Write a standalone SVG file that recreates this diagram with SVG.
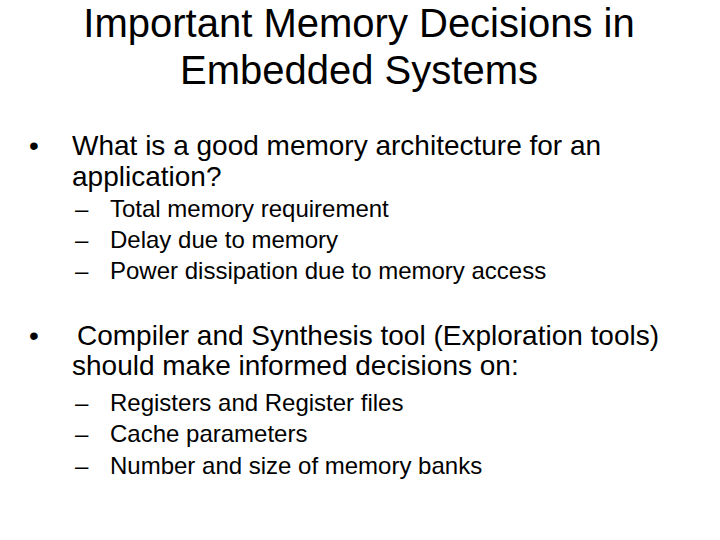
<svg xmlns="http://www.w3.org/2000/svg" width="720" height="540" viewBox="0 0 720 540">
<style>
text{font-family:"Liberation Sans",Arial,sans-serif;fill:#000}
.t{font-size:40px;text-anchor:middle}
.b{font-size:28px}
.s{font-size:24px}
</style>
<rect width="720" height="540" fill="#fff"/>
<g id="title">
<text class="t" x="359" y="37">Important Memory Decisions in</text>
<text class="t" x="359" y="84">Embedded Systems</text>
</g>
<g id="body">
<text class="b" x="29" y="155">•</text>
<text class="b" x="72" y="155">What is a good memory architecture for an</text>
<text class="b" x="72" y="186">application?</text>
<text class="s" x="75" y="217">–</text><text class="s" x="110" y="217">Total memory requirement</text>
<text class="s" x="75" y="248">–</text><text class="s" x="110" y="248">Delay due to memory</text>
<text class="s" x="75" y="279">–</text><text class="s" x="110" y="279">Power dissipation due to memory access</text>
<text class="b" x="29" y="345">•</text>
<text class="b" x="77" y="345">Compiler and Synthesis tool (Exploration tools)</text>
<text class="b" x="72" y="375">should make informed decisions on:</text>
<text class="s" x="75" y="411">–</text><text class="s" x="110" y="411">Registers and Register files</text>
<text class="s" x="75" y="442">–</text><text class="s" x="110" y="442">Cache parameters</text>
<text class="s" x="75" y="474">–</text><text class="s" x="110" y="474">Number and size of memory banks</text>
</g>
</svg>
